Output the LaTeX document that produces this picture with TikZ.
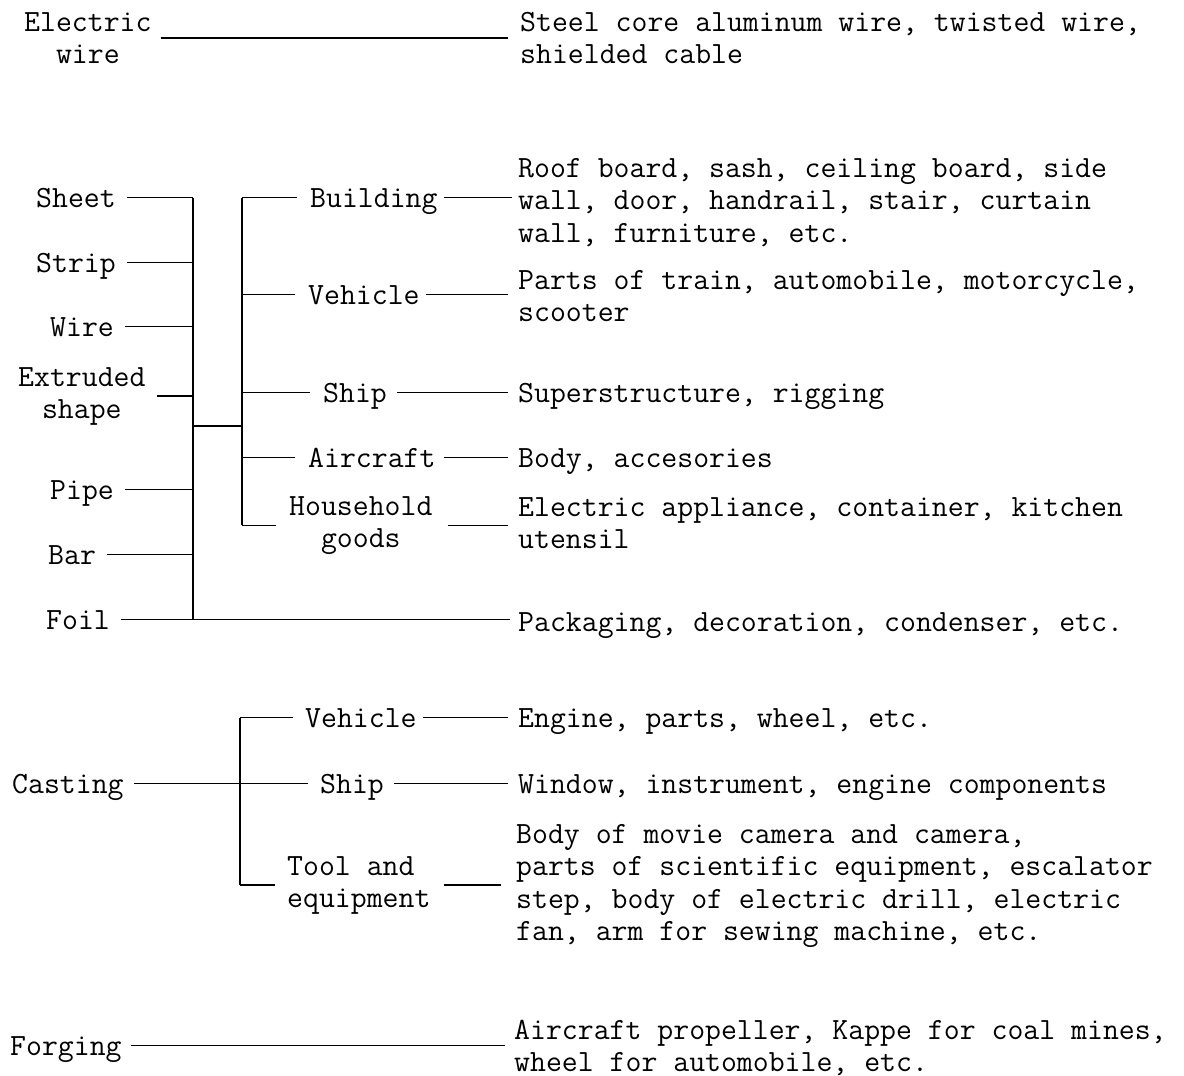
\documentclass[tikz,border=0pt]{standalone}
\usepackage{fontspec}
\begin{document}
\begin{tikzpicture}[x=1pt,y=-1pt,
  txt/.style={inner sep=0pt, anchor=base west, font=\ttfamily\fontsize{30.9}{32.5}\selectfont},
  one/.style={txt, text height=18.8pt, text depth=0pt},
  multi/.style={txt, align=left},
  multic/.style={txt, align=center},
  link/.style={line width=1.6pt},
  trunk/.style={line width=2.2pt}]
\useasboundingbox (0,0) rectangle (1184,1076);

% (multi-line nodes are placed at the baseline of their last line)
% ---- Electric wire
\node[multic] (elec) at (24,63.5) {Electric\\wire};
\node[multi] (steel) at (520,63.5) {Steel core aluminum wire, twisted wire,\\shielded cable};

% ---- Rolled / extruded products
\node[one] (sheet) at (36,207) {Sheet};
\node[one] (strip) at (36,272) {Strip};
\node[one] (wire) at (50,336) {Wire};
\node[multic] (extr) at (18,418.5) {Extruded\\shape};
\node[one] (pipe) at (50,499) {Pipe};
\node[one] (bar) at (48,564) {Bar};
\node[one] (foil) at (46,629) {Foil};

\node[one] (build) at (310,207) {Building};
\node[one] (veh) at (308,304) {Vehicle};
\node[one] (ship) at (323,402) {Ship};
\node[one] (air) at (308,467) {Aircraft};
\node[multic] (house) at (289,547.5) {Household\\goods};

\node[multi] (roof) at (518,242) {Roof board, sash, ceiling board, side\\wall, door, handrail, stair, curtain\\wall, furniture, etc.};
\node[multi] (parts) at (518,321.5) {Parts of train, automobile, motorcycle,\\scooter};
\node[multi] (super) at (518,402) {Superstructure, rigging};
\node[multi] (body) at (518,467) {Body, accesories};
\node[multi] (appl) at (518,548.5) {Electric appliance, container, kitchen\\utensil};
\node[multi] (pack) at (518,631) {Packaging, decoration, condenser, etc.};

% ---- Casting
\node[one] (cast) at (12,793) {Casting};
\node[one] (veh2) at (305,727) {Vehicle};
\node[one] (ship2) at (320,793) {Ship};
\node[multi] (tool) at (287,907.5) {Tool and\\equipment};
\node[multi] (engine) at (518,727) {Engine, parts, wheel, etc.};
\node[multi] (window) at (518,793) {Window, instrument, engine components};
\node[multi] (movie) at (516,940.5) {Body of movie camera and camera,\\parts of scientific equipment, escalator\\step, body of electric drill, electric\\fan, arm for sewing machine, etc.};

% ---- Forging
\node[one] (forg) at (10,1055) {Forging};
\node[multi] (prop) at (514,1071.5) {Aircraft propeller, Kappe for coal mines,\\wheel for automobile, etc.};

% trunk coordinates
\coordinate (tA) at (193,0);
\coordinate (tB) at (242,0);
\coordinate (tC) at (240,0);
\coordinate (join) at (193,426);

% connectors
\draw[link, shorten <=9pt, shorten >=12pt] (elec.east) -- (elec.east -| steel.west);

\foreach \n in {sheet,strip,wire,extr,pipe,bar,foil}
  \draw[link, shorten <=11pt] (\n.east) -- (\n.east -| tA);
\draw[trunk] (sheet.east -| tA) -- (foil.east -| tA);
\draw[link, shorten >=8pt] (foil.east -| tA) -- (foil.east -| pack.west);
\draw[link] (join) -- (join -| tB);
\draw[trunk] (build.west -| tB) -- (house.west -| tB);
\foreach \n in {build,veh,ship,air,house}
  \draw[link, shorten >=13pt] (\n.west -| tB) -- (\n.west);
\draw[link, shorten <=6pt, shorten >=6pt] (build.east) -- (build.east -| roof.west);
\draw[link, shorten <=6pt, shorten >=10pt] (veh.east) -- (veh.east -| parts.west);
\draw[link, shorten <=10pt, shorten >=10pt] (ship.east) -- (ship.east -| super.west);
\draw[link, shorten <=8pt, shorten >=10pt] (air.east) -- (air.east -| body.west);
\draw[link, shorten <=15pt, shorten >=10pt] (house.east) -- (house.east -| appl.west);

\draw[link, shorten <=10pt] (cast.east) -- (cast.east -| tC);
\draw[trunk] (veh2.west -| tC) -- (tool.west -| tC);
\foreach \n in {veh2,ship2,tool}
  \draw[link, shorten >=12pt] (\n.west -| tC) -- (\n.west);
\draw[link, shorten <=6pt, shorten >=10pt] (veh2.east) -- (veh2.east -| engine.west);
\draw[link, shorten <=10pt, shorten >=10pt] (ship2.east) -- (ship2.east -| window.west);
\draw[link, shorten <=13pt, shorten >=15pt] (tool.east) -- (tool.east -| movie.west);

\draw[link, shorten <=9pt, shorten >=9pt] (forg.east) -- (forg.east -| prop.west);
\end{tikzpicture}
\end{document}
